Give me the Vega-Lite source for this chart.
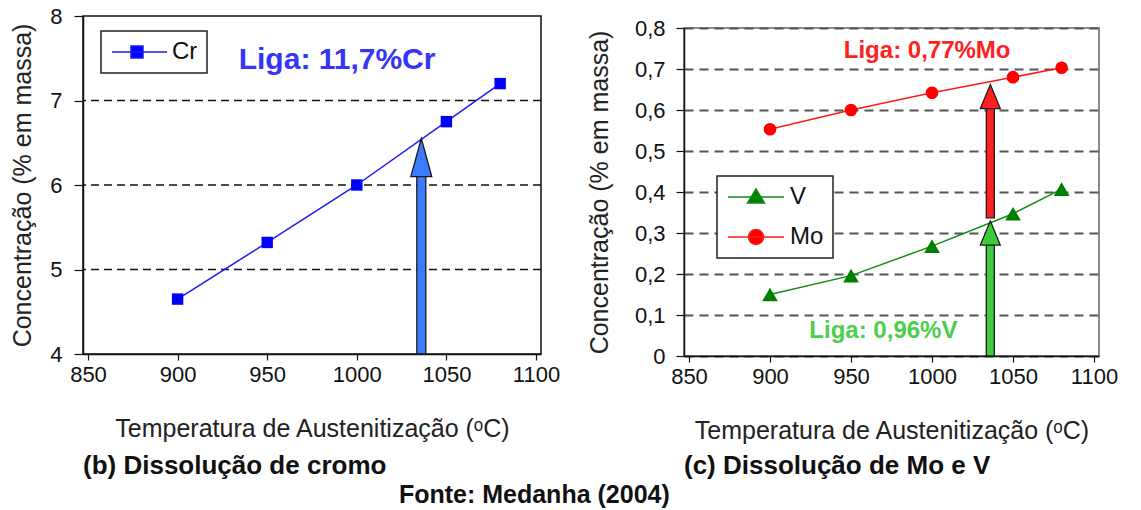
{
  "$schema": "https://vega.github.io/schema/vega-lite/v6.json",
  "background": "white",
  "padding": {"left": 10, "top": 4, "right": 5, "bottom": 0},
  "datasets": {
    "cr": [
      {"t": 900, "v": 4.65},
      {"t": 950, "v": 5.32},
      {"t": 1000, "v": 6.0},
      {"t": 1050, "v": 6.75},
      {"t": 1080, "v": 7.2}
    ],
    "grid": [
      {"v": 5},
      {"v": 6},
      {"v": 7}
    ],
    "mv": [
      {"s": "Mo", "t": 900, "v": 0.553},
      {"s": "Mo", "t": 950, "v": 0.6},
      {"s": "Mo", "t": 1000, "v": 0.642},
      {"s": "Mo", "t": 1050, "v": 0.68},
      {"s": "Mo", "t": 1080, "v": 0.703},
      {"s": "V", "t": 900, "v": 0.15},
      {"s": "V", "t": 950, "v": 0.196},
      {"s": "V", "t": 1000, "v": 0.268},
      {"s": "V", "t": 1050, "v": 0.347},
      {"s": "V", "t": 1080, "v": 0.407}
    ],
    "arrows": [
      {"p": "b", "t": 1036, "v": 4, "v2": 6.12, "tip": 6.55},
      {"p": "Mo", "t": 1036, "v": 0.337, "v2": 0.61, "tip": 0.662},
      {"p": "V", "t": 1036, "v": 0, "v2": 0.272, "tip": 0.329}
    ],
    "notes": [
      {"p": "b", "t": 989, "v": 7.48, "label": "Liga: 11,7%Cr"},
      {"p": "Mo", "t": 997, "v": 0.745, "label": "Liga: 0,77%Mo"},
      {"p": "V", "t": 970, "v": 0.061, "label": "Liga: 0,96%V"}
    ]
  },
  "spacing": 143,
  "bounds": "flush",
  "resolve": {
    "scale": {"fill": "independent", "stroke": "independent", "shape": "independent"},
    "legend": {"fill": "independent", "stroke": "independent", "shape": "independent"}
  },
  "title": {"text": "Fonte: Medanha (2004)", "orient": "bottom", "anchor": "middle", "fontSize": 25, "fontWeight": "bold", "color": "#111", "offset": 3, "dx": -30, "font": "Liberation Sans"},
  "hconcat": [
    {
      "width": 458,
      "height": 338,
      "view": {"stroke": "#111", "strokeWidth": 1.5},
      "title": {"text": "(b) Dissolução de cromo", "orient": "bottom", "anchor": "start", "frame": "group", "fontSize": 26, "fontWeight": "bold", "color": "#111", "offset": 12, "font": "Liberation Sans"},
      "layer": [
        {
          "data": {"name": "grid"},
          "mark": {"type": "rule", "strokeDash": [8, 5], "color": "#111", "strokeWidth": 1.3},
          "encoding": {
            "y": {"field": "v", "type": "quantitative", "scale": {"domain": [4, 8], "nice": false, "zero": false},
              "axis": {"title": "Concentração (% em massa)",
                "values": [4, 5, 6, 7, 8], "format": "d",
                "tickSize": 9, "labelPadding": 12, "titlePadding": 14}}
          }
        },
        {
          "data": {"name": "cr"},
          "mark": {"type": "line", "color": "#1a1aff", "strokeWidth": 1.5},
          "encoding": {
            "x": {"field": "t", "type": "quantitative", "scale": {"domain": [850, 1100], "nice": false, "zero": false},
              "axis": {"title": "Temperatura de Austenitização (ᵒC)", "values": [850, 900, 950, 1000, 1050, 1100], "format": "d", "tickSize": 6, "labelPadding": 4, "titlePadding": 31}},
            "y": {"field": "v", "type": "quantitative"}
          }
        },
        {
          "data": {"name": "cr"},
          "mark": {"type": "point", "shape": "square", "filled": true, "size": 130, "color": "#0000ff", "opacity": 1},
          "encoding": {"x": {"field": "t", "type": "quantitative"}, "y": {"field": "v", "type": "quantitative"}}
        },
        {
          "data": {"name": "arrows"},
          "transform": [{"filter": "datum.p == 'b'"}],
          "mark": {"type": "bar", "size": 9, "fill": "#3b7bff", "stroke": "#1a1a1a", "strokeWidth": 1.3},
          "encoding": {"x": {"field": "t", "type": "quantitative"}, "y": {"field": "v", "type": "quantitative"}, "y2": {"field": "v2"}}
        },
        {
          "data": {"name": "arrows"},
          "transform": [{"filter": "datum.p == 'b'"}],
          "mark": {"type": "point", "shape": "M0,0L0.55,2L-0.55,2Z", "size": 1444, "filled": true, "fill": "#3b7bff", "stroke": "#1a1a1a", "strokeWidth": 1.3, "opacity": 1},
          "encoding": {"x": {"field": "t", "type": "quantitative"}, "y": {"field": "tip", "type": "quantitative"}}
        },
        {
          "data": {"name": "notes"},
          "transform": [{"filter": "datum.p == 'b'"}],
          "mark": {"type": "text", "fontSize": 30, "fontWeight": "bold", "color": "#3535f5", "align": "center", "baseline": "middle", "font": "Liberation Sans"},
          "encoding": {"x": {"field": "t", "type": "quantitative"}, "y": {"field": "v", "type": "quantitative"}, "text": {"field": "label"}}
        },
        {
          "data": {"values": [{"s": "Cr"}]},
          "transform": [{"filter": "false"}],
          "mark": {"type": "point", "filled": true, "opacity": 1},
          "encoding": {
            "fill": {"field": "s", "type": "nominal", "scale": {"domain": ["Cr"], "range": ["#0000ff"]},
              "legend": {"title": null, "orient": "none", "legendX": 18, "legendY": 15, "labelOffset": 38}},
            "stroke": {"field": "s", "type": "nominal", "scale": {"domain": ["Cr"], "range": ["#1a1aff"]},
              "legend": {"title": null, "orient": "none", "legendX": 18, "legendY": 15, "labelOffset": 38}},
            "shape": {"field": "s", "type": "nominal", "scale": {"domain": ["Cr"], "range": ["M-1,0H4.5M0.9,-0.6H2.1V0.6H0.9Z"]},
              "legend": {"title": null, "orient": "none", "legendX": 18, "legendY": 15, "labelOffset": 38}}
          }
        }
      ]
    },
    {
      "spacing": 11,
      "bounds": "flush",
      "resolve": {
        "scale": {"fill": "independent", "stroke": "independent", "shape": "independent"},
        "legend": {"fill": "independent", "stroke": "independent", "shape": "independent"}
      },
      "vconcat": [
        {
          "width": 415,
          "height": 1,
          "data": {"values": [{"s": "x"}]},
          "mark": {"type": "point", "opacity": 0},
          "view": {"stroke": null}
        },
        {
          "width": 415,
          "height": 328,
          "view": {"stroke": "#8a8a8a", "strokeWidth": 2},
          "title": {"text": "(c) Dissolução de Mo e V", "orient": "bottom", "anchor": "start", "frame": "group", "fontSize": 26, "fontWeight": "bold", "color": "#111", "offset": 10, "font": "Liberation Sans"},
          "layer": [
            {
              "data": {"name": "mv"},
              "transform": [{"filter": "datum.s == 'Mo'"}],
              "mark": {"type": "line", "strokeWidth": 1.5, "color": "#ff1a1a"},
              "encoding": {
                "x": {"field": "t", "type": "quantitative", "scale": {"domain": [850, 1100], "nice": false, "zero": false},
                  "axis": {"title": "Temperatura de Austenitização (ᵒC)", "values": [850, 900, 950, 1000, 1050, 1100], "format": "d", "tickSize": 6, "labelPadding": 4, "titlePadding": 31}},
                "y": {"field": "v", "type": "quantitative", "scale": {"domain": [0, 0.8], "nice": false, "zero": false},
                  "axis": {"title": "Concentração (% em massa)",
                    "values": [0, 0.1, 0.2, 0.3, 0.4, 0.5, 0.6, 0.7, 0.8],
                    "labelExpr": "datum.value == 0 ? '0' : replace(format(datum.value, '.1f'), '.', ',')",
                    "labelOverlap": false,
                    "grid": true, "gridDash": [9, 6], "gridColor": "#555", "gridWidth": 2,
                    "tickSize": 8, "labelPadding": 11, "titlePadding": 22}}
              }
            },
            {
              "data": {"name": "mv"},
              "transform": [{"filter": "datum.s == 'V'"}],
              "mark": {"type": "line", "strokeWidth": 1.5, "color": "#138a13"},
              "encoding": {"x": {"field": "t", "type": "quantitative"}, "y": {"field": "v", "type": "quantitative"}}
            },
            {
              "data": {"name": "mv"},
              "transform": [{"filter": "datum.s == 'Mo'"}],
              "mark": {"type": "point", "shape": "circle", "filled": true, "size": 160, "color": "#ff0000", "opacity": 1},
              "encoding": {"x": {"field": "t", "type": "quantitative"}, "y": {"field": "v", "type": "quantitative"}}
            },
            {
              "data": {"name": "mv"},
              "transform": [{"filter": "datum.s == 'V'"}],
              "mark": {"type": "point", "shape": "triangle-up", "filled": true, "size": 250, "color": "#008000", "opacity": 1},
              "encoding": {"x": {"field": "t", "type": "quantitative"}, "y": {"field": "v", "type": "quantitative"}}
            },
            {
              "data": {"name": "arrows"},
              "transform": [{"filter": "datum.p == 'Mo'"}],
              "mark": {"type": "bar", "size": 8, "fill": "#ff1f1f", "stroke": "#1a1a1a", "strokeWidth": 1.3},
              "encoding": {"x": {"field": "t", "type": "quantitative"}, "y": {"field": "v", "type": "quantitative"}, "y2": {"field": "v2"}}
            },
            {
              "data": {"name": "arrows"},
              "transform": [{"filter": "datum.p == 'Mo'"}],
              "mark": {"type": "point", "shape": "M0,0L0.83,2L-0.83,2Z", "size": 576, "filled": true, "fill": "#ff1f1f", "stroke": "#1a1a1a", "strokeWidth": 1.3, "opacity": 1},
              "encoding": {"x": {"field": "t", "type": "quantitative"}, "y": {"field": "tip", "type": "quantitative"}}
            },
            {
              "data": {"name": "arrows"},
              "transform": [{"filter": "datum.p == 'V'"}],
              "mark": {"type": "bar", "size": 8, "fill": "#3ccc3c", "stroke": "#1a1a1a", "strokeWidth": 1.3},
              "encoding": {"x": {"field": "t", "type": "quantitative"}, "y": {"field": "v", "type": "quantitative"}, "y2": {"field": "v2"}}
            },
            {
              "data": {"name": "arrows"},
              "transform": [{"filter": "datum.p == 'V'"}],
              "mark": {"type": "point", "shape": "M0,0L0.83,2L-0.83,2Z", "size": 576, "filled": true, "fill": "#3ccc3c", "stroke": "#1a1a1a", "strokeWidth": 1.3, "opacity": 1},
              "encoding": {"x": {"field": "t", "type": "quantitative"}, "y": {"field": "tip", "type": "quantitative"}}
            },
            {
              "data": {"name": "notes"},
              "transform": [{"filter": "datum.p == 'Mo'"}],
              "mark": {"type": "text", "fontSize": 24, "fontWeight": "bold", "color": "#ff2020", "align": "center", "baseline": "middle", "font": "Liberation Sans"},
              "encoding": {"x": {"field": "t", "type": "quantitative"}, "y": {"field": "v", "type": "quantitative"}, "text": {"field": "label"}}
            },
            {
              "data": {"name": "notes"},
              "transform": [{"filter": "datum.p == 'V'"}],
              "mark": {"type": "text", "fontSize": 24, "fontWeight": "bold", "color": "#4ccd4c", "align": "center", "baseline": "middle", "font": "Liberation Sans"},
              "encoding": {"x": {"field": "t", "type": "quantitative"}, "y": {"field": "v", "type": "quantitative"}, "text": {"field": "label"}}
            },
            {
              "data": {"values": [{"s": "V"}, {"s": "Mo"}]},
              "transform": [{"filter": "false"}],
              "mark": {"type": "point", "filled": true, "opacity": 1},
              "encoding": {
                "fill": {"field": "s", "type": "nominal", "scale": {"domain": ["V", "Mo"], "range": ["#008000", "#ff0000"]},
                  "legend": {"title": null, "orient": "none", "legendX": 33, "legendY": 148, "labelOffset": 40, "rowPadding": 16}},
                "stroke": {"field": "s", "type": "nominal", "scale": {"domain": ["V", "Mo"], "range": ["#138a13", "#ff1a1a"]},
                  "legend": {"title": null, "orient": "none", "legendX": 33, "legendY": 148, "labelOffset": 40, "rowPadding": 16}},
                "shape": {"field": "s", "type": "nominal", "scale": {"domain": ["V", "Mo"], "range": ["M-1,0H4.6M1.8,-0.8L2.65,0.6L0.95,0.6Z", "M-1,0H4.6M2.55,0A0.75,0.75,0,1,1,1.05,0A0.75,0.75,0,1,1,2.55,0Z"]},
                  "legend": {"title": null, "orient": "none", "legendX": 33, "legendY": 148, "labelOffset": 40, "rowPadding": 16}}
              }
            }
          ]
        }
      ]
    }
  ],
  "config": {
    "font": "Liberation Sans",
    "axis": {
      "labelFont": "Liberation Sans", "titleFont": "Liberation Sans",
      "labelFontSize": 22, "titleFontSize": 25, "titleFontWeight": "normal",
      "labelColor": "#111", "titleColor": "#222",
      "domainColor": "#111", "tickColor": "#111", "domainWidth": 1.5, "tickWidth": 1.2,
      "grid": false
    },
    "legend": {
      "labelFont": "Liberation Sans", "labelFontSize": 24, "labelColor": "#111",
      "fillColor": "white", "strokeColor": "#222", "strokeWidth": 1.5,
      "padding": 9, "symbolSize": 400, "symbolStrokeWidth": 1.5, "rowPadding": 14
    }
  }
}
